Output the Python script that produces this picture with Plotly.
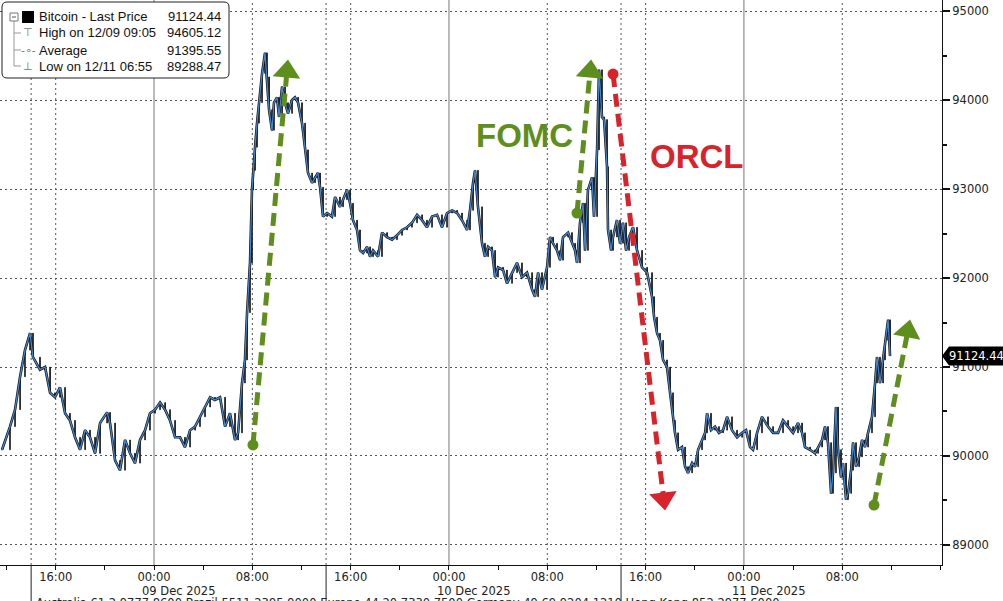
import plotly.graph_objects as go
import pandas as pd

# ---------------- data ----------------
# hours relative to 09 Dec 2025 00:00
hours = [-12.37, -11.72, -11.31, -10.90, -10.50, -10.09, -9.85, -9.28, -8.87, -8.46,
         -8.06, -7.65, -7.24, -6.84, -6.43, -6.02, -5.61, -5.21, -4.80, -4.39,
         -3.82, -3.58, -3.17, -2.77, -2.36, -1.95, -1.55, -1.14, -0.73, -0.33,
         0.08, 0.49, 0.90, 1.30, 1.71, 2.12, 2.52, 2.93, 3.34, 3.74,
         4.15, 4.56, 4.96, 5.37, 5.78, 6.18, 6.59, 6.84, 7.16, 7.40,
         7.57, 7.81, 7.97, 8.06, 8.22, 8.38, 8.54, 8.79, 9.03, 9.19,
         9.36, 9.60, 9.76, 10.01, 10.17, 10.42, 10.66, 10.90, 11.23, 11.47,
         11.72, 12.04, 12.29, 12.53, 12.86, 13.10, 13.34, 13.51, 13.75, 14.08,
         14.48, 14.73, 15.13, 15.38, 15.70, 15.95, 16.19, 16.52, 16.76, 17.01,
         17.33, 17.58, 17.82, 18.23, 18.55, 18.96, 19.37, 19.77, 20.18, 20.59,
         20.99, 21.40, 21.81, 22.21, 22.62, 23.03, 23.43, 23.84, 24.25, 24.66,
         25.06, 25.47, 25.71, 25.96, 26.12, 26.36, 26.69, 26.93, 27.18, 27.50,
         27.75, 27.99, 28.40, 28.72, 29.13, 29.54, 29.94, 30.35, 30.76, 31.00,
         31.25, 31.57, 31.98, 32.22, 32.47, 32.79, 33.04, 33.28, 33.69, 34.01,
         34.26, 34.42, 34.66, 34.91, 35.07, 35.31, 35.64, 35.80, 36.05, 36.21,
         36.45, 36.62, 36.86, 36.94, 37.19, 37.35, 37.67, 37.92, 38.16, 38.41,
         38.65, 38.98, 39.30, 39.71, 40.12, 40.52, 40.69, 40.93, 41.17, 41.42,
         41.74, 41.99, 42.23, 42.39, 42.64, 42.96, 43.21, 43.45, 43.78, 44.02,
         44.27, 44.59, 44.84, 45.00, 45.32, 45.65, 45.97, 46.30, 46.63, 47.03,
         47.44, 47.85, 48.17, 48.50, 48.74, 49.07, 49.47, 49.96, 50.37, 50.78,
         51.18, 51.59, 52.00, 52.40, 52.73, 52.97, 53.38, 53.79, 54.03, 54.36,
         54.60, 54.84, 55.09, 55.25, 55.49, 55.66, 55.90, 56.06, 56.31, 56.47,
         56.72, 56.88, 57.12, 57.37, 57.61, 57.85, 58.10, 58.42, 58.67, 58.83,
         59.07, 59.32, 59.48, 59.73, 59.89]

price = [90070, 90330, 90520, 90890, 91190, 91380, 91110, 90970, 91000, 90710,
         90660, 90770, 90480, 90400, 90210, 90070, 90290, 90210, 90030, 90370,
         90490, 90370, 89950, 89840, 90180, 90030, 89920, 90180, 90290, 90480,
         90520, 90600, 90520, 90400, 90210, 90210, 90100, 90290, 90330, 90440,
         90550, 90660, 90630, 90660, 90330, 90480, 90180, 90260, 90820, 91080,
         91610, 92170, 92990, 93210, 93470, 93740, 93970, 94300, 94530, 94260,
         93890, 93660, 93970, 94030, 93810, 94150, 93970, 93850, 94000, 94030,
         93970, 93740, 93440, 93180, 93070, 93130, 93180, 93020, 92690, 92730,
         92690, 92910, 92800, 92880, 92990, 92840, 92650, 92540, 92310, 92280,
         92350, 92240, 92310, 92240, 92510, 92460, 92430, 92480, 92540, 92570,
         92620, 92710, 92650, 92570, 92690, 92710, 92570, 92730, 92760, 92730,
         92650, 92540, 92760, 93070, 93210, 92800, 92390, 92240, 92350, 92310,
         92010, 92120, 92090, 91940, 92060, 92170, 92010, 92060, 91870, 91790,
         92060, 91870, 92120, 92460, 92390, 92310, 92200, 92460, 92510, 92390,
         92310, 92170, 92620, 92840, 92310, 92990, 93130, 92690, 93440, 94340,
         93810, 93780, 93250, 92540, 92310, 92460, 92650, 92390, 92620, 92310,
         92460, 92570, 92310, 92120, 92060, 91790, 91560, 91380, 91300, 91080,
         91000, 90710, 90400, 90260, 90070, 90100, 89880, 89810, 89920, 89880,
         90070, 90180, 90260, 90480, 90290, 90330, 90260, 90290, 90440, 90290,
         90210, 90260, 90290, 90100, 90070, 90260, 90440, 90330, 90260, 90260,
         90400, 90330, 90260, 90370, 90260, 90100, 90070, 90030, 90100, 90180,
         90330, 90150, 89580, 89810, 90550, 90070, 89760, 89920, 89510, 89580,
         89840, 90150, 89880, 89990, 90180, 90100, 90260, 90440, 90820, 91110,
         90820, 91080, 91300, 91530, 91124.44]

last_price = 91124.44
legend_labels = ["Bitcoin - Last Price", "High on 12/09 09:05", "Average", "Low on 12/11 06:55"]
legend_values = ["91124.44", "94605.12", "91395.55", "89288.47"]

y_ticks = [89000, 90000, 91000, 92000, 93000, 94000, 95000]
x_tick_times = ["2025-12-08 16:00", "2025-12-09 00:00", "2025-12-09 08:00", "2025-12-09 16:00",
                "2025-12-10 00:00", "2025-12-10 08:00", "2025-12-10 16:00", "2025-12-11 00:00",
                "2025-12-11 08:00"]
x_tick_text = ["16:00", "00:00", "08:00", "16:00", "00:00", "08:00", "16:00", "00:00", "08:00"]
date_labels = ["09 Dec 2025", "10 Dec 2025", "11 Dec 2025"]
date_label_times = ["2025-12-09 02:00", "2025-12-10 02:00", "2025-12-11 02:00"]
midnights = ["2025-12-09 00:00", "2025-12-10 00:00", "2025-12-11 00:00"]
dotted_times = ["2025-12-08 16:00", "2025-12-09 08:00", "2025-12-09 16:00",
                "2025-12-10 08:00", "2025-12-10 16:00", "2025-12-11 08:00"]
session_breaks = ["2025-12-08 14:00", "2025-12-09 14:00", "2025-12-10 14:00"]

# annotation arrows: (start time, start price, head time, head price, head angle, colour)
GREEN = "#5e8e1c"
RED = "#d9232b"
arrows = [
    ("2025-12-09 08:03", 90124, "2025-12-09 10:49", 94320, 5, GREEN),
    ("2025-12-10 10:25", 92730, "2025-12-10 11:29", 94320, 5, GREEN),
    ("2025-12-10 13:21", 94292, "2025-12-10 17:28", 89521, 173, RED),
    ("2025-12-11 10:35", 89449, "2025-12-11 13:20", 91401, 11, GREEN),
]

x_range = ["2025-12-08 11:28", "2025-12-11 16:07"]
y_range = [88775, 95124]

# ---------------- figure ----------------
base = pd.Timestamp("2025-12-09 00:00")
times = [base + pd.Timedelta(hours=h) for h in hours]
opens = [price[0]] + price[:-1]
highs = [max(o, c) for o, c in zip(opens, price)]
lows = [min(o, c) for o, c in zip(opens, price)]

fig = go.Figure()

fig.add_trace(go.Scatter(
    x=times, y=price, mode="lines",
    line=dict(color="#111111", width=2.6), showlegend=False, hoverinfo="skip"))

fig.add_trace(go.Candlestick(
    x=times, open=opens, high=highs, low=lows, close=price,
    increasing=dict(line=dict(color="#111111", width=1), fillcolor="#ffffff"),
    decreasing=dict(line=dict(color="#111111", width=1), fillcolor="#1d3a6c"),
    whiskerwidth=0, showlegend=False, hoverinfo="skip"))

fig.add_trace(go.Scatter(
    x=times, y=price, mode="lines",
    line=dict(color="#4585cc", width=1.3), showlegend=False, hoverinfo="skip"))

for (t0, p0, t1, p1, ang, col) in arrows:
    fig.add_trace(go.Scatter(x=[t0, t1], y=[p0, p1], mode="lines",
                             line=dict(color=col, width=5, dash="13px,7px"),
                             showlegend=False, hoverinfo="skip", cliponaxis=False))
    fig.add_trace(go.Scatter(x=[t0], y=[p0], mode="markers",
                             marker=dict(symbol="circle", size=11, color=col),
                             showlegend=False, hoverinfo="skip", cliponaxis=False))
    fig.add_trace(go.Scatter(x=[t1], y=[p1], mode="markers",
                             marker=dict(symbol="triangle-up", size=24, color=col,
                                         angle=ang, line=dict(width=0)),
                             showlegend=False, hoverinfo="skip", cliponaxis=False))

# vertical guide lines
for t in dotted_times + session_breaks:
    fig.add_shape(type="line", xref="x", yref="paper", x0=t, x1=t, y0=0, y1=1,
                  line=dict(color="#555555", width=1, dash="2px,3px"), layer="below")
for t in midnights:
    fig.add_shape(type="line", xref="x", yref="paper", x0=t, x1=t, y0=0, y1=1,
                  line=dict(color="#777777", width=1), layer="below")
for t in session_breaks:
    fig.add_shape(type="line", xref="x", yref="paper", x0=t, x1=t, y0=0, y1=-0.07,
                  line=dict(color="#222222", width=1), layer="above")

# text annotations
fig.add_annotation(x="2025-12-10 06:11", y=93607, text="<b>FOMC</b>", showarrow=False,
                   font=dict(family="Liberation Sans", size=33, color=GREEN))
fig.add_annotation(x="2025-12-10 20:11", y=93360, text="<b>ORCL</b>", showarrow=False,
                   font=dict(family="Liberation Sans", size=33, color=RED))

# date row
for lab, t in zip(date_labels, date_label_times):
    fig.add_annotation(x=t, xref="x", y=-0.0465, yref="paper", text=lab, showarrow=False,
                       yanchor="middle", font=dict(family="DejaVu Sans", size=11.5, color="#222222"))
fig.add_annotation(x=0.036, xref="paper", y=-0.068, yref="paper", xanchor="left", yanchor="middle",
                   text="Australia 61 2 9777 8600 Brazil 5511 2395 9000 Europe 44 20 7330 7500 "
                        "Germany 49 69 9204 1210 Hong Kong 852 2977 6000",
                   showarrow=False, font=dict(family="DejaVu Sans", size=11.5, color="#222222"))

# legend box (top left)
W, H = 942.0, 565.0
def px(x):
    return x / W
def py(y):
    return 1 - y / H
x0, x1, y0, y1, r = 2, 229, 2, 78, 5
path = (f"M {px(x0+r)},{py(y0)} L {px(x1-r)},{py(y0)} Q {px(x1)},{py(y0)} {px(x1)},{py(y0+r)} "
        f"L {px(x1)},{py(y1-r)} Q {px(x1)},{py(y1)} {px(x1-r)},{py(y1)} "
        f"L {px(x0+r)},{py(y1)} Q {px(x0)},{py(y1)} {px(x0)},{py(y1-r)} "
        f"L {px(x0)},{py(y0+r)} Q {px(x0)},{py(y0)} {px(x0+r)},{py(y0)} Z")
fig.add_shape(type="path", xref="paper", yref="paper", path=path,
              fillcolor="white", line=dict(color="#222222", width=1), layer="above")
row_y = [17, 33, 50, 66]
fig.add_shape(type="line", xref="paper", yref="paper", x0=px(14), x1=px(14), y0=py(21), y1=py(66),
              line=dict(color="#999999", width=1), layer="above")
for ry in row_y[1:]:
    fig.add_shape(type="line", xref="paper", yref="paper", x0=px(14), x1=px(21), y0=py(ry), y1=py(ry),
                  line=dict(color="#999999", width=1), layer="above")
fig.add_shape(type="rect", xref="paper", yref="paper", x0=px(10), x1=px(18), y0=py(13), y1=py(21),
              fillcolor="white", line=dict(color="#777777", width=1), layer="above")
fig.add_shape(type="line", xref="paper", yref="paper", x0=px(12), x1=px(16), y0=py(17), y1=py(17),
              line=dict(color="#555555", width=1), layer="above")
fig.add_shape(type="rect", xref="paper", yref="paper", x0=px(22), x1=px(34), y0=py(11), y1=py(23),
              fillcolor="black", line=dict(color="black", width=0), layer="above")
glyphs = ["", "⊤", "-∘-", "⊥"]
for i, (lab, val) in enumerate(zip(legend_labels, legend_values)):
    fig.add_annotation(x=px(37), y=py(row_y[i]), xref="paper", yref="paper", xanchor="left",
                       yanchor="middle", text=lab, showarrow=False,
                       font=dict(family="Liberation Sans", size=13, color="#111111"))
    fig.add_annotation(x=px(223), y=py(row_y[i]), xref="paper", yref="paper", xanchor="right",
                       yanchor="middle", text=val, showarrow=False,
                       font=dict(family="Liberation Sans", size=13, color="#111111"))
    if glyphs[i]:
        fig.add_annotation(x=px(28), y=py(row_y[i]), xref="paper", yref="paper", xanchor="center",
                           yanchor="middle", text=glyphs[i], showarrow=False,
                           font=dict(family="DejaVu Sans", size=11, color="#777777"))

# last price tag on the right axis
half = 9.5 * (y_range[1] - y_range[0]) / H
tag = (f"M {px(942)},{last_price} L {px(949)},{last_price + half} L {1003 / W},{last_price + half} "
       f"L {1003 / W},{last_price - half} L {px(949)},{last_price - half} Z")
fig.add_shape(type="path", xref="paper", yref="y", path=tag, fillcolor="black",
              line=dict(color="black", width=0), layer="above")
fig.add_annotation(x=px(976), y=last_price, xref="paper", yref="y", text=f"{last_price:.2f}",
                   showarrow=False, xanchor="center", yanchor="middle",
                   font=dict(family="DejaVu Sans", size=11.5, color="white"))

fig.update_layout(
    width=1003, height=601,
    margin=dict(l=0, r=61, t=0, b=36),
    paper_bgcolor="white", plot_bgcolor="white",
    font=dict(family="DejaVu Sans", size=11.5, color="#222222"),
    showlegend=False,
    xaxis=dict(type="date", range=x_range, rangeslider=dict(visible=False),
               tickvals=x_tick_times, ticktext=x_tick_text, showgrid=False, zeroline=False,
               showline=True, linecolor="#111111", linewidth=1,
               ticks="outside", ticklen=1, tickcolor="#111111",
               minor=dict(dtick=4 * 3600 * 1000, tick0="2025-12-08 00:00", ticks="outside",
                          ticklen=4, tickcolor="#111111", showgrid=False),
               tickfont=dict(family="DejaVu Sans", size=11.5, color="#222222")),
    yaxis=dict(side="right", range=y_range, tickvals=y_ticks, showgrid=True,
               gridcolor="#555555", griddash="2px,3px", gridwidth=1, zeroline=False,
               showline=True, linecolor="#111111", linewidth=1,
               ticks="outside", ticklen=7, tickwidth=2, tickcolor="#111111",
               minor=dict(dtick=500, ticks="outside", ticklen=4, tickcolor="#111111", showgrid=False),
               tickfont=dict(family="DejaVu Sans", size=11.5, color="#222222"),
               tickformat="d"),
)

fig.write_html("out.html", config={"displayModeBar": False},
               post_script="document.body.style.margin='0';document.body.style.overflow='hidden';")
